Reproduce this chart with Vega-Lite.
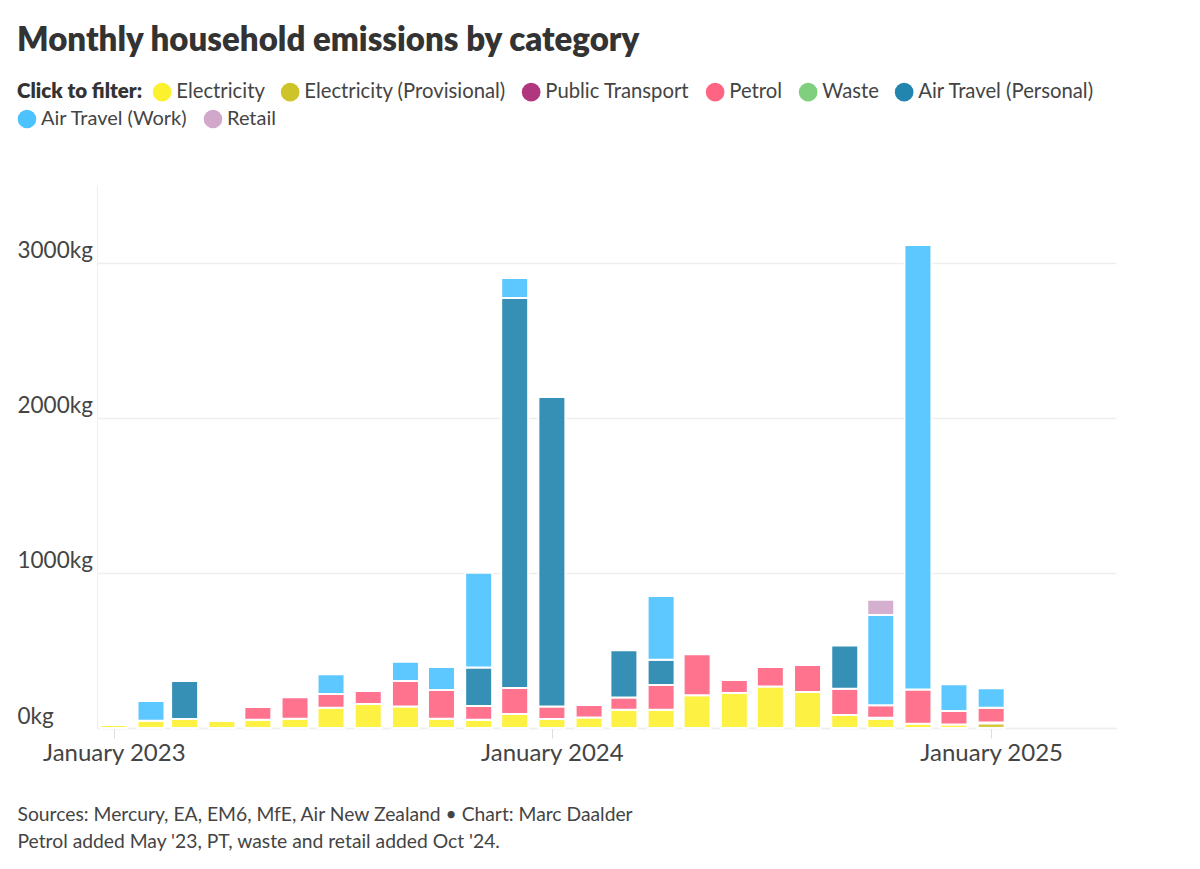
{
  "$schema": "https://vega.github.io/schema/vega-lite/v6.json",
  "width": 1019,
  "height": 543,
  "autosize": {"type": "none"},
  "padding": {"left": 97, "top": 185, "right": 84, "bottom": 141},
  "background": "white",
  "title": {"text": "Monthly household emissions by category", "anchor": "start", "frame": "group", "dx": -80, "offset": 24, "fontSize": 33, "fontWeight": 800, "color": "#333333"},
  "data": {"values": [
    {"month": "2023-01-01", "category": "Electricity", "kg": 20},
    {"month": "2023-02-01", "category": "Electricity", "kg": 47},
    {"month": "2023-02-01", "category": "Air Travel (Work)", "kg": 127},
    {"month": "2023-03-01", "category": "Electricity", "kg": 58},
    {"month": "2023-03-01", "category": "Air Travel (Personal)", "kg": 245},
    {"month": "2023-04-01", "category": "Electricity", "kg": 45},
    {"month": "2023-05-01", "category": "Electricity", "kg": 54},
    {"month": "2023-05-01", "category": "Petrol", "kg": 81},
    {"month": "2023-06-01", "category": "Electricity", "kg": 60},
    {"month": "2023-06-01", "category": "Petrol", "kg": 138},
    {"month": "2023-07-01", "category": "Electricity", "kg": 131},
    {"month": "2023-07-01", "category": "Petrol", "kg": 88},
    {"month": "2023-07-01", "category": "Air Travel (Work)", "kg": 127},
    {"month": "2023-08-01", "category": "Electricity", "kg": 155},
    {"month": "2023-08-01", "category": "Petrol", "kg": 84},
    {"month": "2023-09-01", "category": "Electricity", "kg": 138},
    {"month": "2023-09-01", "category": "Petrol", "kg": 165},
    {"month": "2023-09-01", "category": "Air Travel (Work)", "kg": 125},
    {"month": "2023-10-01", "category": "Electricity", "kg": 60},
    {"month": "2023-10-01", "category": "Petrol", "kg": 185},
    {"month": "2023-10-01", "category": "Air Travel (Work)", "kg": 148},
    {"month": "2023-11-01", "category": "Electricity", "kg": 54},
    {"month": "2023-11-01", "category": "Petrol", "kg": 88},
    {"month": "2023-11-01", "category": "Air Travel (Personal)", "kg": 249},
    {"month": "2023-11-01", "category": "Air Travel (Work)", "kg": 611},
    {"month": "2023-12-01", "category": "Electricity", "kg": 90},
    {"month": "2023-12-01", "category": "Petrol", "kg": 168},
    {"month": "2023-12-01", "category": "Air Travel (Personal)", "kg": 2516},
    {"month": "2023-12-01", "category": "Air Travel (Work)", "kg": 129},
    {"month": "2024-01-01", "category": "Electricity", "kg": 58},
    {"month": "2024-01-01", "category": "Petrol", "kg": 80},
    {"month": "2024-01-01", "category": "Air Travel (Personal)", "kg": 1997},
    {"month": "2024-02-01", "category": "Electricity", "kg": 67},
    {"month": "2024-02-01", "category": "Petrol", "kg": 81},
    {"month": "2024-03-01", "category": "Electricity", "kg": 118},
    {"month": "2024-03-01", "category": "Petrol", "kg": 78},
    {"month": "2024-03-01", "category": "Air Travel (Personal)", "kg": 305},
    {"month": "2024-04-01", "category": "Electricity", "kg": 118},
    {"month": "2024-04-01", "category": "Petrol", "kg": 159},
    {"month": "2024-04-01", "category": "Air Travel (Personal)", "kg": 164},
    {"month": "2024-04-01", "category": "Air Travel (Work)", "kg": 410},
    {"month": "2024-05-01", "category": "Electricity", "kg": 211},
    {"month": "2024-05-01", "category": "Petrol", "kg": 264},
    {"month": "2024-06-01", "category": "Electricity", "kg": 226},
    {"month": "2024-06-01", "category": "Petrol", "kg": 84},
    {"month": "2024-07-01", "category": "Electricity", "kg": 267},
    {"month": "2024-07-01", "category": "Petrol", "kg": 126},
    {"month": "2024-08-01", "category": "Electricity", "kg": 232},
    {"month": "2024-08-01", "category": "Petrol", "kg": 174},
    {"month": "2024-09-01", "category": "Electricity", "kg": 84},
    {"month": "2024-09-01", "category": "Petrol", "kg": 170},
    {"month": "2024-09-01", "category": "Air Travel (Personal)", "kg": 279},
    {"month": "2024-10-01", "category": "Electricity", "kg": 60},
    {"month": "2024-10-01", "category": "Public Transport", "kg": 6},
    {"month": "2024-10-01", "category": "Petrol", "kg": 80},
    {"month": "2024-10-01", "category": "Air Travel (Work)", "kg": 583},
    {"month": "2024-10-01", "category": "Retail", "kg": 99},
    {"month": "2024-11-01", "category": "Electricity", "kg": 28},
    {"month": "2024-11-01", "category": "Petrol", "kg": 221},
    {"month": "2024-11-01", "category": "Air Travel (Work)", "kg": 2867},
    {"month": "2024-12-01", "category": "Electricity", "kg": 22},
    {"month": "2024-12-01", "category": "Petrol", "kg": 88},
    {"month": "2024-12-01", "category": "Air Travel (Work)", "kg": 172},
    {"month": "2025-01-01", "category": "Electricity (Provisional)", "kg": 30},
    {"month": "2025-01-01", "category": "Public Transport", "kg": 6},
    {"month": "2025-01-01", "category": "Petrol", "kg": 95},
    {"month": "2025-01-01", "category": "Air Travel (Work)", "kg": 125}
  ]},
  "transform": [
    {"calculate": "indexof(['Electricity','Electricity (Provisional)','Public Transport','Petrol','Waste','Air Travel (Personal)','Air Travel (Work)','Retail'], datum.category)", "as": "stack_rank"}
  ],
  "layer": [
    {
      "mark": {"type": "bar", "size": 27, "stroke": "white", "strokeWidth": 2, "opacity": 0.9},
      "encoding": {
        "x": {
          "field": "month",
          "type": "temporal",
          "scale": {"domain": [{"year": 2022, "month": 12, "date": 18}, {"year": 2025, "month": 4, "date": 15}], "padding": 0},
          "axis": {
            "values": [{"year": 2023, "month": 1, "date": 1}, {"year": 2024, "month": 1, "date": 1}, {"year": 2025, "month": 1, "date": 1}],
            "format": "%B %Y",
            "grid": false,
            "domainColor": "#eeeeee",
            "domainWidth": 1.5,
            "tickColor": "#dddddd",
            "tickSize": 10,
            "labelFontSize": 24,
            "labelColor": "#444444",
            "labelPadding": 3,
            "title": ["Sources: Mercury, EA, EM6, MfE, Air New Zealand • Chart: Marc Daalder", "Petrol added May '23, PT, waste and retail added Oct '24."],
            "titleFontSize": 19.3,
            "titleFontWeight": "normal",
            "titleColor": "#444444",
            "titleAlign": "left",
            "titleBaseline": "alphabetic",
            "titleLineHeight": 27,
            "titleX": -80,
            "titleY": 92
          }
        },
        "y": {
          "field": "kg",
          "type": "quantitative",
          "stack": "zero",
          "scale": {"domain": [0, 3503], "nice": false},
          "axis": {
            "values": [0, 1000, 2000, 3000],
            "labelExpr": "datum.value + 'kg'",
            "gridColor": "#eeeeee",
            "gridWidth": 1.5,
            "domainColor": "#eeeeee",
            "ticks": false,
            "labelAlign": "left",
            "labelPadding": 80,
            "labelBaseline": "alphabetic",
            "labelOffset": -5,
            "labelFontSize": 22.5,
            "labelColor": "#444444",
            "title": null
          }
        },
        "order": {"field": "stack_rank", "type": "quantitative"},
        "color": {
          "field": "category",
          "type": "nominal",
          "scale": {
            "domain": ["Electricity", "Electricity (Provisional)", "Public Transport", "Petrol", "Waste", "Air Travel (Personal)", "Air Travel (Work)", "Retail"],
            "range": ["#fdf02f", "#cfc32a", "#b0367e", "#ff6482", "#7fcf7e", "#2185ad", "#4cc3ff", "#d1a7cb"]
          },
          "legend": {
            "values": ["Electricity", "Electricity (Provisional)", "Public Transport", "Petrol", "Waste", "Air Travel (Personal)"],
            "title": "Click to filter:",
            "titleOrient": "left",
            "titleFontSize": 20.5,
            "titleFontWeight": 800,
            "titleColor": "#333333",
            "titlePadding": 9,
            "orient": "none",
            "legendX": -80,
            "legendY": -103,
            "columns": 6,
            "gridAlign": "none",
            "columnPadding": 15,
            "symbolType": "circle",
            "symbolSize": 346,
            "symbolOpacity": 1,
            "symbolStrokeWidth": 0,
            "labelFontSize": 20.3,
            "labelColor": "#444444",
            "labelOffset": 4,
            "labelLimit": 400
          }
        }
      }
    },
    {
      "transform": [{"filter": "datum.kg < 0"}],
      "mark": {"type": "point", "filled": true},
      "encoding": {
        "x": {"field": "month", "type": "temporal"},
        "y": {"field": "kg", "type": "quantitative"},
        "color": {
          "field": "category",
          "type": "nominal",
          "scale": {"domain": ["Air Travel (Work)", "Retail"], "range": ["#4cc3ff", "#d1a7cb"]},
          "legend": {
            "title": null,
            "orient": "none",
            "legendX": -80,
            "legendY": -76,
            "columns": 2,
            "gridAlign": "none",
            "columnPadding": 15,
            "symbolType": "circle",
            "symbolSize": 346,
            "symbolOpacity": 1,
            "symbolStrokeWidth": 0,
            "labelFontSize": 20,
            "labelColor": "#444444",
            "labelOffset": 4,
            "labelLimit": 400
          }
        }
      }
    }
  ],
  "resolve": {"scale": {"color": "independent"}},
  "config": {"font": "Lato", "view": {"stroke": null}}
}
